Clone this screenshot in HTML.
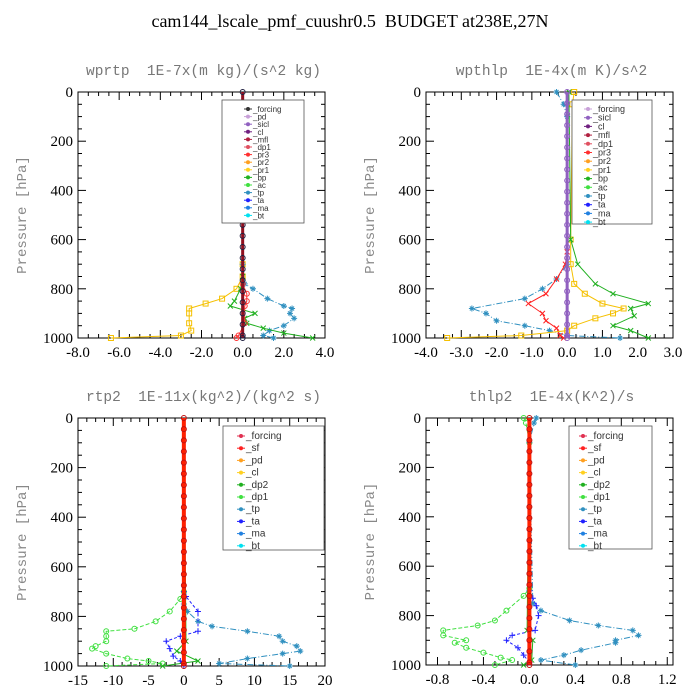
<!DOCTYPE html>
<html><head><meta charset="utf-8">
<style>
html,body{margin:0;padding:0;background:#fff;}
svg{display:block;}
svg text{white-space:pre;}
</style></head>
<body>
<svg id="chart" width="700" height="700" viewBox="0 0 700 700" xmlns="http://www.w3.org/2000/svg">
<text x="350" y="27" text-anchor="middle" font-family="Liberation Serif, serif" font-size="18" fill="#000">cam144_lscale_pmf_cuushr0.5  BUDGET at238E,27N</text>
</svg>
<script>
// ---- shared pressure levels for near-zero profiles ----
const zeroPres = [0,45,90,135,180,225,270,315,360,405,450,495,540,585,630,675,720,765,810,855,900,945,990,1000];

// ---- panel 1: wprtp ----
const p1Pr1P = [0,700,750,800,840,860,880,900,940,970,990,1000];
const p1Pr1X = [0,0,0,-0.3,-1.0,-1.8,-2.6,-2.6,-2.6,-2.5,-3.0,-6.4];
const p1TpP = [0,700,780,800,840,870,880,900,920,950,970,990,1000];
const p1TpX = [0,0,0.1,0.5,1.2,2.0,2.4,2.3,2.5,2.0,1.3,1.0,1.5];
const p1BpP = [0,750,800,850,870,900,920,940,960,980,1000];
const p1BpX = [0,0,-0.1,-0.4,-0.6,0.6,0.1,0.2,1.0,2.0,3.4];
const p1Dp1P = [0,780,820,850,870,940,990,1000];
const p1Dp1X = [0,0,0.2,0.2,0.1,0.1,-0.2,-0.3];

// ---- panel 2: wpthlp ----
const p2TpP = [0,50,100,700,760,800,840,880,900,930,950,970,990,1000];
const p2TpX = [-0.3,-0.1,0,0,-0.3,-0.7,-1.2,-2.7,-2.3,-2.0,-1.2,-0.5,0,1.5];
const p2Dp1P = [0,650,700,760,820,860,900,930,960,990,1000];
const p2Dp1X = [0,0,-0.05,-0.3,-0.6,-1.1,-0.7,-0.6,-0.3,-0.2,-0.1];
const p2Pr1P = [0,50,600,700,780,820,860,880,900,920,950,970,990,1000];
const p2Pr1X = [0.2,0.15,0.1,0.1,0.2,0.5,1.0,1.6,1.3,0.8,0.2,0,-1.3,-3.4];
const p2BpP = [0,600,700,780,820,860,880,910,950,970,1000];
const p2BpX = [0.05,0.1,0.3,0.8,1.3,2.3,1.8,1.9,1.3,1.8,2.3];

// ---- panel 3: rtp2 ----
const p3Dp1P = [0,700,730,780,820,850,860,880,900,920,930,950,970,980,990,1000];
const p3Dp1X = [0,0,-0.5,-2,-4,-7,-11,-11,-11,-12.5,-13,-11,-8,-5,-3,-11];
const p3TpP = [0,750,780,820,840,860,880,900,920,940,950,970,990,1000];
const p3TpX = [0,0,0.5,2,4,9,13.5,14,16,16.5,14,9,5,15];
const p3TaP = [0,700,720,780,860,880,900,930,960,980,1000];
const p3TaX = [0,0,0.3,2,2,-0.5,-2.5,-2,-1.5,-0.5,0];
const p3Dp2P = [0,900,940,980,1000];
const p3Dp2X = [0,0.3,-1,2,-3];

// ---- panel 4: thlp2 ----
const p4Dp1P = [0,20,100,690,720,780,820,840,860,880,900,910,930,950,970,980,1000];
const p4Dp1X = [-0.05,-0.03,0,0,-0.05,-0.2,-0.3,-0.45,-0.75,-0.75,-0.55,-0.65,-0.55,-0.4,-0.25,-0.15,-0.3];
const p4TpP = [0,20,100,750,780,820,840,860,880,900,910,940,960,980,1000];
const p4TpX = [0.06,0.04,0,0.03,0.1,0.35,0.6,0.9,0.95,0.75,0.75,0.45,0.3,0.1,0.4];
const p4TaP = [0,700,730,760,800,860,880,900,930,960,990];
const p4TaX = [0,0,0.03,0.06,0.08,0.05,-0.15,-0.2,-0.1,-0.05,0];
const p4Dp2P = [0,860,900,980,1000];
const p4Dp2X = [0,-0.02,0.03,0.02,-0.05];

// ---- tick labels / legends ----
const p1Ticks = [-8,-6,-4,-2,0,2,4];
const p1TickLabels = ["-8.0","-6.0","-4.0","-2.0","0.0","2.0","4.0"];
const p2Ticks = [-4,-3,-2,-1,0,1,2,3];
const p2TickLabels = ["-4.0","-3.0","-2.0","-1.0","0.0","1.0","2.0","3.0"];
const p3Ticks = [-15,-10,-5,0,5,10,15,20];
const p3TickLabels = ["-15","-10","-5","0","5","10","15","20"];
const p4Ticks = [-0.8,-0.4,0,0.4,0.8,1.2];
const p4TickLabels = ["-0.8","-0.4","0.0","0.4","0.8","1.2"];
const yTicks = [0,200,400,600,800,1000];
const legend1 = ["_forcing","_pd","_sicl","_cl","_mfl","_dp1","_pr3","_pr2","_pr1","_bp","_ac","_tp","_ta","_ma","_bt"];
const legend1Colors = ["#333","#c8a0d8","#9060c0","#702080","#b02040","#e05060","#ff3030","#ffa020","#ffd020","#20b020","#40e040","#3090c0","#2020ff","#2080e0","#00e0f0"];
const legend2 = ["_forcing","_sicl","_cl","_mfl","_dp1","_pr3","_pr2","_pr1","_bp","_ac","_tp","_ta","_ma","_bt"];
const legend2Colors = ["#c8a0d8","#9060c0","#702080","#b02040","#e05060","#ff3030","#ffa020","#ffd020","#20b020","#40e040","#3090c0","#2020ff","#2080e0","#00e0f0"];
const legend3 = ["_forcing","_sf","_pd","_cl","_dp2","_dp1","_tp","_ta","_ma","_bt"];
const legend3Colors = ["#e03050","#ff2020","#ffa020","#ffd020","#20b020","#40e040","#3090c0","#2020ff","#2080e0","#00e0f0"];

const NS = "http://www.w3.org/2000/svg";
const svg = document.getElementById('chart');
function mk(tag, attrs, parent){
  const e = document.createElementNS(NS, tag);
  for (const k in attrs) e.setAttribute(k, attrs[k]);
  (parent||svg).appendChild(e);
  return e;
}

function marker(g, kind, x, y, color){
  let m;
  if (kind === 'circle') m = mk('circle',{cx:x,cy:y,r:2.5,fill:'none',stroke:color,'stroke-width':1},g);
  else if (kind === 'square') m = mk('rect',{x:x-2.5,y:y-2.5,width:5,height:5,fill:'none',stroke:color,'stroke-width':1},g);
  else if (kind === 'x') m = mk('path',{d:`M${x-2.5} ${y-2.5}L${x+2.5} ${y+2.5}M${x-2.5} ${y+2.5}L${x+2.5} ${y-2.5}`,stroke:color,'stroke-width':1},g);
  else if (kind === 'plus') m = mk('path',{d:`M${x-3} ${y}L${x+3} ${y}M${x} ${y-3}L${x} ${y+3}`,stroke:color,'stroke-width':1},g);
  else m = mk('path',{d:`M${x-3} ${y}L${x+3} ${y}M${x} ${y-3}L${x} ${y+3}M${x-2} ${y-2}L${x+2} ${y+2}M${x-2} ${y+2}L${x+2} ${y-2}`,stroke:color,'stroke-width':1},g);
  
  
}

function panel(cfg){
  const {L,T,R,B,xmin,xmax} = cfg;
  const xs = v => L + (v - xmin)/(xmax - xmin)*(R - L);
  const ys = p => T + p/1000*(B - T);
  const g = mk('g',{});
  
  
  const t = mk('text',{x:(L+R)/2+2,y:T-17,'text-anchor':'middle','font-family':'Liberation Mono, monospace','font-size':14.5,fill:'#777'},g);
  t.textContent = cfg.title;
  
  
  const yt = mk('text',{x:0,y:0,transform:`translate(${L-52},${(T+B)/2}) rotate(-90)`,'text-anchor':'middle','font-family':'Liberation Mono, monospace','font-size':14,fill:'#888'},g);
  yt.textContent = 'Pressure [hPa]';
  
  
  const fr = mk('rect',{x:L,y:T,width:R-L,height:B-T,fill:'none',stroke:'#000','stroke-width':1},g);
  
  
  for (let p=0;p<=1000;p+=50){
    const len = p%200===0 ? 8 : 4;
    mk('line',{x1:L,x2:L+len,y1:ys(p),y2:ys(p),stroke:'#000'},g);
    mk('line',{x1:R,x2:R-len,y1:ys(p),y2:ys(p),stroke:'#000'},g);
  }
  yTicks.forEach(p=>{
    const lb = mk('text',{x:L-5,y:ys(p)+5,'text-anchor':'end','font-family':'Liberation Serif, serif','font-size':15,fill:'#000'},g);
    lb.textContent = String(p);
    
    
  });
  const ticks = cfg.ticks;
  const step = (ticks[1]-ticks[0])/4;
  for (let v=ticks[0]; v<=ticks[ticks.length-1]+1e-9; v+=step){
    const major = Math.abs(((v-ticks[0])/(ticks[1]-ticks[0])) - Math.round((v-ticks[0])/(ticks[1]-ticks[0])))<1e-6;
    const len = major?8:4;
    mk('line',{x1:xs(v),x2:xs(v),y1:B,y2:B-len,stroke:'#000'},g);
    mk('line',{x1:xs(v),x2:xs(v),y1:T,y2:T+len,stroke:'#000'},g);
  }
  ticks.forEach((v,i)=>{
    const lb = mk('text',{x:xs(v),y:B+19,'text-anchor':'middle','font-family':'Liberation Serif, serif','font-size':15,fill:'#000'},g);
    lb.textContent = cfg.tickLabels[i];
    
    
  });
  cfg.series.forEach(s=>{
    const sg = mk('g',{},g);
    
    
    const d = s.p.map((p,i)=>(i?'L':'M')+xs(s.x[i]).toFixed(1)+' '+ys(p).toFixed(1)).join('');
    const ln = mk('path',{d:d,fill:'none',stroke:s.color,'stroke-width':s.w||1,'stroke-dasharray':s.dash||''},sg);
    
    
    if (s.mk) s.p.forEach((p,i)=>{ if (i>0 || s.x[0]!==0) marker(sg,s.mk,xs(s.x[i]),ys(p),s.color); });
  });
  const zg = mk('g',{},g);
  
  
  const zl = mk('line',{x1:xs(0),x2:xs(0),y1:T,y2:B,stroke:cfg.zeroColor,'stroke-width':cfg.zeroW},zg);
  
  
  zeroPres.forEach(p=>marker(zg,'circle',xs(0),ys(p),cfg.zeroMk));
  const lg = cfg.legend;
  const box = mk('rect',{x:lg.x,y:lg.y,width:lg.w,height:lg.h,fill:'#fff',stroke:'#555','stroke-width':0.8},g);
  
  
  lg.names.forEach((n,i)=>{
    const yy = lg.y + lg.first + i*lg.dy;
    const e = mk('g',{},g);
    
    
    mk('line',{x1:lg.x+lg.sx,x2:lg.x+lg.sx+8,y1:yy,y2:yy,stroke:lg.colors[i]},e);
    mk('circle',{cx:lg.x+lg.sx+4,cy:yy,r:2,fill:lg.colors[i]},e);
    const tx = mk('text',{x:lg.x+lg.sx+9,y:yy+3,'font-family':'Liberation Sans, sans-serif','font-size':lg.fs,fill:'#333'},e);
    tx.textContent = n;
  });
}

panel({name:'panel-wprtp',title:'wprtp  1E-7x(m kg)/(s^2 kg)',L:78,T:92,R:325,B:338,xmin:-8,xmax:4,
  ticks:p1Ticks,tickLabels:p1TickLabels,zeroColor:'#901020',zeroW:3,zeroMk:'#202040',
  series:[
    {name:'pr1',p:p1Pr1P,x:p1Pr1X,color:'#f5c000',mk:'square'},
    {name:'tp',p:p1TpP,x:p1TpX,color:'#3090c0',mk:'star',dash:'6,2,1,2'},
    {name:'bp',p:p1BpP,x:p1BpX,color:'#20b020',mk:'x'},
    {name:'dp1',p:p1Dp1P,x:p1Dp1X,color:'#ff3030',mk:'circle'}],
  legend:{x:222,y:100,w:82,h:123,first:9,dy:7.6,sx:22,fs:8,names:legend1,colors:legend1Colors}});

panel({name:'panel-wpthlp',title:'wpthlp  1E-4x(m K)/s^2',L:426,T:92,R:673,B:338,xmin:-4,xmax:3,
  ticks:p2Ticks,tickLabels:p2TickLabels,zeroColor:'#9060c0',zeroW:3,zeroMk:'#9060c0',
  series:[
    {name:'tp',p:p2TpP,x:p2TpX,color:'#3090c0',mk:'star',dash:'6,2,1,2'},
    {name:'dp1',p:p2Dp1P,x:p2Dp1X,color:'#ff2020',mk:'x'},
    {name:'pr1',p:p2Pr1P,x:p2Pr1X,color:'#f5c000',mk:'square'},
    {name:'bp',p:p2BpP,x:p2BpX,color:'#20b020',mk:'x'}],
  legend:{x:572,y:100,w:80,h:124,first:9,dy:8.7,sx:12,fs:9,names:legend2,colors:legend2Colors}});

panel({name:'panel-rtp2',title:'rtp2  1E-11x(kg^2)/(kg^2 s)',L:78,T:418,R:325,B:666,xmin:-15,xmax:20,
  ticks:p3Ticks,tickLabels:p3TickLabels,zeroColor:'#ff2000',zeroW:4,zeroMk:'#c01010',
  series:[
    {name:'dp1',p:p3Dp1P,x:p3Dp1X,color:'#40e040',mk:'circle',dash:'4,2'},
    {name:'tp',p:p3TpP,x:p3TpX,color:'#3090c0',mk:'star',dash:'6,2,1,2'},
    {name:'ta',p:p3TaP,x:p3TaX,color:'#2020ff',mk:'plus',dash:'3,2'},
    {name:'dp2',p:p3Dp2P,x:p3Dp2X,color:'#20b020',mk:'x'}],
  legend:{x:223,y:426,w:101,h:124,first:10,dy:12.2,sx:14,fs:10,names:legend3,colors:legend3Colors}});

panel({name:'panel-thlp2',title:'thlp2  1E-4x(K^2)/s',L:426,T:418,R:673,B:665,xmin:-0.9,xmax:1.25,
  ticks:p4Ticks,tickLabels:p4TickLabels,zeroColor:'#ff2000',zeroW:4,zeroMk:'#c01010',
  series:[
    {name:'dp1',p:p4Dp1P,x:p4Dp1X,color:'#40e040',mk:'circle',dash:'4,2'},
    {name:'tp',p:p4TpP,x:p4TpX,color:'#3090c0',mk:'star',dash:'6,2,1,2'},
    {name:'ta',p:p4TaP,x:p4TaX,color:'#2020ff',mk:'plus',dash:'3,2'},
    {name:'dp2',p:p4Dp2P,x:p4Dp2X,color:'#20b020',mk:'x'}],
  legend:{x:569,y:426,w:83,h:123,first:10,dy:12.2,sx:10,fs:10,names:legend3,colors:legend3Colors}});
</script>
</body></html>
